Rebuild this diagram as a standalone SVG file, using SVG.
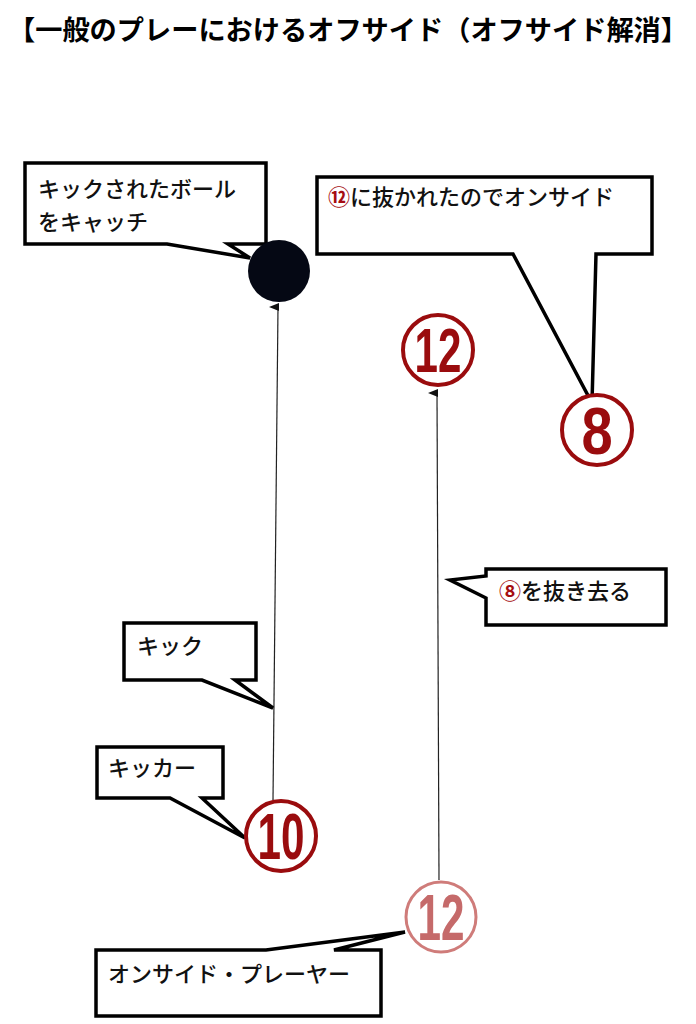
<svg xmlns="http://www.w3.org/2000/svg" width="696" height="1024" viewBox="0 0 696 1024">
<style>
.co{fill:#fff;stroke:#000;stroke-width:3.5;stroke-linejoin:miter}
.t{font-family:"Noto Sans CJK JP",sans-serif;font-size:22px;font-weight:500;fill:#111}
.r{fill:#a50d12;font-weight:bold}
.pc{fill:#fff;stroke:#9a0c0e;stroke-width:4}
.pn{font-family:"Liberation Sans",sans-serif;font-weight:bold;fill:#9a0c0e;text-anchor:middle}
.ln{stroke:#222;stroke-width:1.2;fill:none}
</style>
<defs><marker id="ah" markerWidth="10" markerHeight="10" refX="5" refY="9" orient="auto" markerUnits="userSpaceOnUse" viewBox="0 0 10 10"><path d="M1,10 L5,0 L9,10 Z" fill="#111"/></marker></defs>
<rect width="696" height="1024" fill="#fff"/>
<text x="8" y="40" font-family="Noto Sans CJK JP,sans-serif" font-size="27" font-weight="bold" fill="#000" textLength="680" lengthAdjust="spacingAndGlyphs">【一般のプレーにおけるオフサイド（オフサイド解消】</text>
<g id="connectors">
<line class="ln" x1="273" y1="800" x2="278" y2="307" marker-end="url(#ah)"/>
<line class="ln" x1="439" y1="880" x2="437" y2="393" marker-end="url(#ah)"/>
</g>
<g id="callout-catch">
<path class="co" d="M25,163 H266 V244 H228 L250,258 L167,244 H25 Z"/>
<text class="t" x="38" y="197">キックされたボール</text>
<text class="t" x="38" y="230">をキャッチ</text>
</g>
<g id="ball"><circle cx="279" cy="271" r="31" fill="#050814"/></g>
<g id="callout-onside8">
<path class="co" d="M317,177 H652 V254 H596 L592,403 L513,254 H317 Z"/>
<text class="t" x="328" y="205"><tspan class="r">⑫</tspan>に抜かれたのでオンサイド</text>
</g>
<g id="p12a"><circle class="pc" cx="438" cy="350" r="35"/><text class="pn" x="438" y="372" font-size="62" transform="translate(438 0) scale(0.68 1) translate(-438 0)">12</text></g>
<g id="p8"><circle class="pc" cx="597" cy="430" r="35"/><text class="pn" x="597" y="454" font-size="66" transform="translate(597 0) scale(0.85 1) translate(-597 0)">8</text></g>
<g id="callout-8away">
<path class="co" d="M486,569 H666 V625 H486 V598 L450,580 L486,576 Z"/>
<text class="t" x="499" y="599"><tspan class="r">⑧</tspan>を抜き去る</text>
</g>
<g id="callout-kick">
<path class="co" d="M124,623 H256 V680 H235 L273,708 L202,680 H124 Z"/>
<text class="t" x="137" y="654">キック</text>
</g>
<g id="callout-kicker">
<path class="co" d="M97,747 H223 V798 H202 L245,838 L170,798 H97 Z"/>
<text class="t" x="108" y="776">キッカー</text>
</g>
<g id="p10"><circle class="pc" cx="281" cy="836" r="35"/><text class="pn" x="281" y="859" font-size="64" transform="translate(281 0) scale(0.66 1) translate(-281 0)">10</text></g>
<g id="p12b"><circle cx="441" cy="917" r="35" fill="#fff" stroke="#cf7c7a" stroke-width="3"/><text class="pn" x="441" y="940" font-size="64" style="fill:#c56a6a" transform="translate(441 0) scale(0.66 1) translate(-441 0)">12</text></g>
<g id="callout-onside">
<path class="co" d="M96,950 H266 L405,932 L334,950 H381 V1016 H96 Z"/>
<text class="t" x="108" y="982">オンサイド・プレーヤー</text>
</g>
</svg>
